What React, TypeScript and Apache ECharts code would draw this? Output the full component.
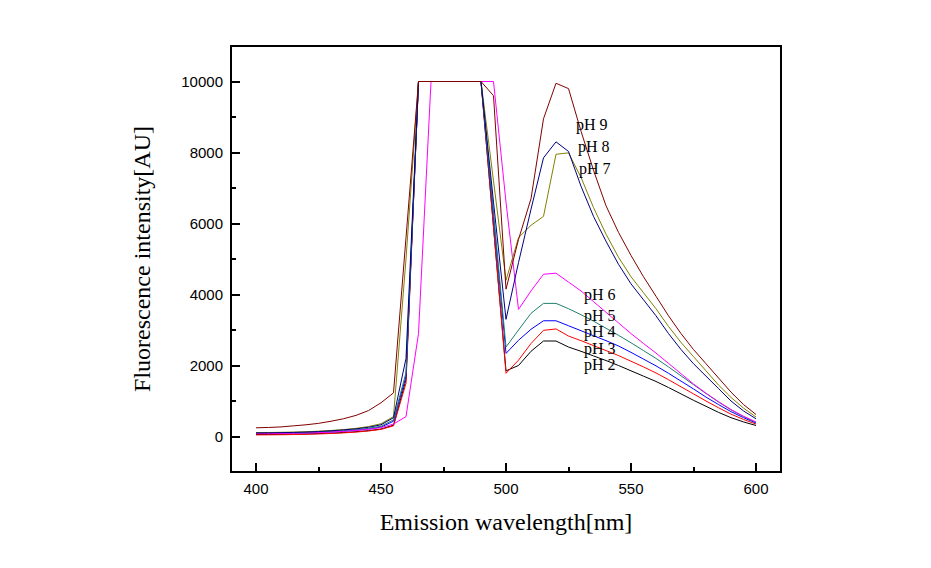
import React, { useEffect, useRef } from "react";
import * as echarts from "echarts";

// Emission wavelength (nm), 5 nm steps
const wavelengths = [
  400, 405, 410, 415, 420, 425, 430, 435, 440, 445, 450, 455, 460, 465, 470, 475, 480, 485, 490, 495,
  500, 505, 510, 515, 520, 525, 530, 535, 540, 545, 550, 555, 560, 565, 570, 575, 580, 585, 590, 595, 600,
];

const pH2 = [
  55, 57, 60, 65, 72, 82, 95, 112, 135, 165, 210, 320, 1600, 10000, 10000, 10000, 10000, 10000, 10000, 5900,
  1850, 2000, 2400, 2690, 2690, 2520, 2400, 2270, 2140, 2000, 1850, 1700, 1550, 1380, 1200, 1020, 850, 680, 530, 410, 310,
];
const pH3 = [
  45, 47, 50, 55, 62, 72, 85, 102, 125, 155, 200, 300, 1500, 10000, 10000, 10000, 10000, 10000, 10000, 5900,
  1780, 2150, 2620, 2990, 3030, 2830, 2700, 2560, 2420, 2280, 2120, 1960, 1790, 1600, 1400, 1200, 1000, 810, 630, 480, 350,
];
const pH4 = [
  85, 87, 90, 95, 103, 114, 128, 148, 175, 210, 265, 430, 1700, 10000, 10000, 10000, 10000, 10000, 10000, 6200,
  2340, 2710, 3020, 3260, 3260, 3120, 2980, 2840, 2700, 2550, 2370, 2180, 1990, 1780, 1560, 1340, 1110, 900, 700, 530, 380,
];
const pH5 = [
  90, 92, 96, 102, 110, 122, 138, 160, 190, 230, 290, 470, 1800, 10000, 10000, 10000, 10000, 10000, 10000, 6300,
  2520, 3000, 3470, 3750, 3750, 3600, 3430, 3250, 3050, 2850, 2640, 2420, 2200, 1960, 1710, 1460, 1210, 970, 750, 560, 400,
];
const pH6 = [
  80, 82, 86, 92, 100, 110, 125, 145, 170, 200, 250, 350, 560, 2900, 10000, 10000, 10000, 10000, 10000, 10000,
  6600, 3580, 4100, 4570, 4600, 4350, 4100, 3800, 3500, 3200, 2900, 2620, 2350, 2060, 1770, 1480, 1220, 980, 760, 570, 410,
];
const pH7 = [
  110, 113, 118, 125, 135, 150, 170, 195, 230, 280, 360, 560, 5000, 10000, 10000, 10000, 10000, 10000, 10000, 7200,
  4400, 5600, 5950, 6200, 7950, 7990, 7300, 6450, 5700, 5050, 4500, 4050, 3600, 3100, 2650, 2250, 1850, 1450, 1100, 800, 550,
];
const pH8 = [
  100, 103, 108, 115, 125, 140, 160, 185, 215, 260, 330, 530, 2200, 10000, 10000, 10000, 10000, 10000, 10000, 6600,
  3300, 4900, 6400, 7850, 8300, 8030, 7050, 6200, 5500, 4850, 4300, 3850, 3400, 2900, 2450, 2050, 1700, 1350, 1000, 720, 500,
];
const pH9 = [
  245, 255, 270, 300, 330, 370, 430, 500, 595, 730, 950, 1230, 5600, 10000, 10000, 10000, 10000, 10000, 10000, 9600,
  4150, 5550, 6700, 8950, 9950, 9800, 8600, 7500, 6500, 5750, 5100, 4500, 3950, 3400, 2900, 2450, 2050, 1650, 1250, 900, 620,
];

const seriesNames = ["pH 2", "pH 3", "pH 4", "pH 5", "pH 6", "pH 7", "pH 8", "pH 9"];
const seriesValues = [pH2, pH3, pH4, pH5, pH6, pH7, pH8, pH9];
const seriesColors = ["#000000", "#ff0000", "#0000ff", "#1f7f6f", "#ff00ff", "#808000", "#000080", "#800000"];

// Annotation labels placed in data coordinates (left edge, vertical middle)
const labelTexts = ["pH 9", "pH 8", "pH 7", "pH 6", "pH 5", "pH 4", "pH 3", "pH 2"];
const labelX = [528, 528.8, 529.2, 531.2, 531.2, 531.2, 531.2, 531.2];
const labelY = [8785, 8164, 7542, 4011, 3418, 2966, 2480, 2030];

const xMajorTicks = [400, 450, 500, 550, 600];
const xMinorTicks = [425, 475, 525, 575];
const yMajorTicks = [0, 2000, 4000, 6000, 8000, 10000];
const yMinorTicks = [1000, 3000, 5000, 7000, 9000];

export default function App() {
  const ref = useRef<HTMLDivElement>(null);

  useEffect(() => {
    if (!ref.current) return;
    const chart = echarts.init(ref.current, undefined, { renderer: "svg" });

    const lineSeries = seriesValues.map((vals, i) => ({
      name: seriesNames[i],
      type: "line",
      xAxisIndex: 0,
      yAxisIndex: 0,
      data: wavelengths.map((w, j) => [w, vals[j]]),
      symbol: "none",
      smooth: false,
      lineStyle: { color: seriesColors[i], width: 1 },
      itemStyle: { color: seriesColors[i] },
      silent: true,
      z: 2 + i,
    }));

    const tickLabelStyle = {
      fontFamily: "Liberation Sans",
      fontSize: 15,
      color: "#000",
      formatter: (v: number) => String(v),
    };

    chart.setOption({
      animation: false,
      backgroundColor: "#fff",
      grid: {
        left: 231,
        right: 150,
        top: 46,
        bottom: 96,
        show: true,
        borderColor: "#000",
        borderWidth: 2,
        backgroundColor: "transparent",
        containLabel: false,
      },
      xAxis: [
        {
          type: "value",
          min: 390,
          max: 610,
          name: "Emission wavelength[nm]",
          nameLocation: "middle",
          nameGap: 38,
          nameTextStyle: { fontFamily: "Liberation Serif", fontSize: 24, color: "#000" },
          axisLine: { show: false, onZero: false },
          axisTick: {
            show: true,
            inside: true,
            length: 9,
            customValues: xMajorTicks,
            lineStyle: { color: "#000", width: 2 },
          },
          axisLabel: { show: true, margin: 9, customValues: xMajorTicks, ...tickLabelStyle },
          splitLine: { show: false },
        },
        {
          type: "value",
          min: 390,
          max: 610,
          position: "bottom",
          axisLine: { show: false, onZero: false },
          axisTick: {
            show: true,
            inside: true,
            length: 5,
            customValues: xMinorTicks,
            lineStyle: { color: "#000", width: 2 },
          },
          axisLabel: { show: false },
          splitLine: { show: false },
        },
      ],
      yAxis: [
        {
          type: "value",
          min: -1000,
          max: 11000,
          name: "Fluorescence intensity[AU]",
          nameLocation: "middle",
          nameGap: 77,
          nameTextStyle: { fontFamily: "Liberation Serif", fontSize: 24, color: "#000" },
          axisLine: { show: false, onZero: false },
          axisTick: {
            show: true,
            inside: true,
            length: 9,
            customValues: yMajorTicks,
            lineStyle: { color: "#000", width: 2 },
          },
          axisLabel: { show: true, margin: 8, customValues: yMajorTicks, ...tickLabelStyle },
          splitLine: { show: false },
        },
        {
          type: "value",
          min: -1000,
          max: 11000,
          position: "left",
          axisLine: { show: false, onZero: false },
          axisTick: {
            show: true,
            inside: true,
            length: 5,
            customValues: yMinorTicks,
            lineStyle: { color: "#000", width: 2 },
          },
          axisLabel: { show: false },
          splitLine: { show: false },
        },
      ],
      series: lineSeries,
    });

    // Place the pH annotations using the axes' own scales
    const texts = labelTexts.map((t, i) => {
      const p = chart.convertToPixel({ xAxisIndex: 0, yAxisIndex: 0 }, [labelX[i], labelY[i]]) as number[];
      return {
        type: "text",
        x: p[0],
        y: p[1],
        z: 50,
        silent: true,
        style: {
          text: t,
          fill: "#000",
          fontFamily: "Liberation Serif",
          fontSize: 16,
          align: "left",
          verticalAlign: "middle",
        },
      };
    });
    chart.setOption({ graphic: texts });

    return () => {
      chart.dispose();
    };
  }, []);

  return (
    <div
      ref={ref}
      style={{ position: "absolute", left: 0, top: 0, width: 931, height: 568 }}
    />
  );
}
